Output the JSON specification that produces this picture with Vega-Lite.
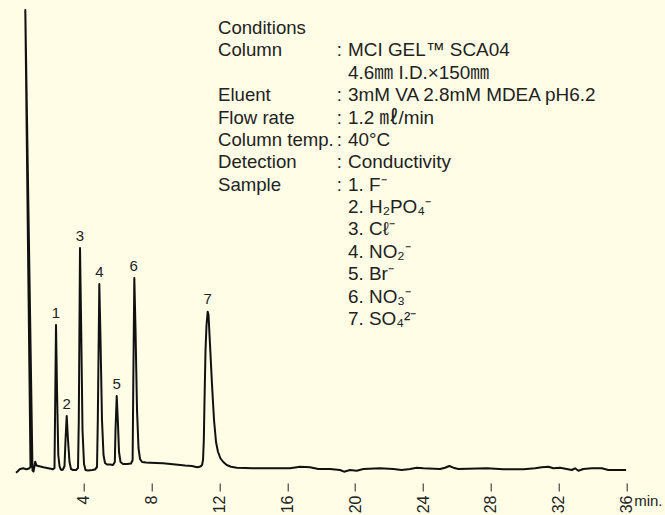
{
  "$schema": "https://vega.github.io/schema/vega-lite/v6.json",
  "width": 611,
  "height": 478,
  "autosize": {"type": "none"},
  "padding": {"left": 15.7, "top": 5, "right": 38.3, "bottom": 32},
  "background": "#fffde6",
  "config": {"view": {"stroke": null}, "font": "Liberation Sans, Noto Sans CJK JP"},
  "datasets": {
    "trace": [
      {"t": 0.018, "s": -2.7}, {"t": 0.136, "s": -1}, {"t": 0.224, "s": 0.7}, {"t": 0.43, "s": 1.7},
      {"t": 0.636, "s": 0.7}, {"t": 0.784, "s": 1.5}, {"t": 0.872, "s": 3}, {"t": 0.566, "s": 460},
      {"t": 0.99, "s": -0.5}, {"t": 1.049, "s": -1.5}, {"t": 1.108, "s": 4}, {"t": 1.149, "s": 8.3},
      {"t": 1.226, "s": 4.5}, {"t": 1.332, "s": 4}, {"t": 1.626, "s": 2.7}, {"t": 1.921, "s": 1.7},
      {"t": 2.198, "s": 0.7}, {"t": 2.286, "s": 2}, {"t": 2.316, "s": 50}, {"t": 2.375, "s": 145},
      {"t": 2.434, "s": 80}, {"t": 2.51, "s": 15}, {"t": 2.581, "s": 4}, {"t": 2.64, "s": 1},
      {"t": 2.699, "s": 0}, {"t": 2.787, "s": 0.5}, {"t": 2.876, "s": 4}, {"t": 2.935, "s": 30},
      {"t": 3.005, "s": 54}, {"t": 3.082, "s": 30}, {"t": 3.17, "s": 8}, {"t": 3.259, "s": 1},
      {"t": 3.377, "s": 0}, {"t": 3.553, "s": 0}, {"t": 3.671, "s": 2}, {"t": 3.718, "s": 50},
      {"t": 3.789, "s": 222}, {"t": 3.86, "s": 140}, {"t": 3.936, "s": 40}, {"t": 4.025, "s": 6},
      {"t": 4.113, "s": 0}, {"t": 4.26, "s": -0.5}, {"t": 4.496, "s": 0}, {"t": 4.673, "s": 0.5},
      {"t": 4.791, "s": 3}, {"t": 4.838, "s": 50}, {"t": 4.926, "s": 186}, {"t": 4.997, "s": 130},
      {"t": 5.085, "s": 50}, {"t": 5.174, "s": 15}, {"t": 5.262, "s": 7}, {"t": 5.38, "s": 5.5},
      {"t": 5.557, "s": 5.5}, {"t": 5.734, "s": 5}, {"t": 5.84, "s": 8}, {"t": 5.881, "s": 40},
      {"t": 5.952, "s": 74}, {"t": 6.017, "s": 50}, {"t": 6.087, "s": 18}, {"t": 6.176, "s": 8},
      {"t": 6.323, "s": 6}, {"t": 6.559, "s": 6}, {"t": 6.794, "s": 6.5}, {"t": 6.889, "s": 10},
      {"t": 6.93, "s": 90}, {"t": 6.989, "s": 192}, {"t": 7.06, "s": 140}, {"t": 7.148, "s": 60},
      {"t": 7.236, "s": 22}, {"t": 7.325, "s": 11}, {"t": 7.443, "s": 8}, {"t": 7.678, "s": 7.5},
      {"t": 7.914, "s": 7.3}, {"t": 8.68, "s": 6.7}, {"t": 9.269, "s": 5.7}, {"t": 9.976, "s": 4.5},
      {"t": 10.389, "s": 4}, {"t": 10.683, "s": 2.7}, {"t": 10.89, "s": 3.5}, {"t": 10.978, "s": 5},
      {"t": 11.037, "s": 10}, {"t": 11.084, "s": 30}, {"t": 11.125, "s": 70}, {"t": 11.184, "s": 120},
      {"t": 11.243, "s": 145}, {"t": 11.314, "s": 158.3}, {"t": 11.361, "s": 155}, {"t": 11.45, "s": 125},
      {"t": 11.567, "s": 85}, {"t": 11.685, "s": 50}, {"t": 11.803, "s": 28}, {"t": 11.921, "s": 18},
      {"t": 12.068, "s": 11.5}, {"t": 12.233, "s": 8}, {"t": 12.434, "s": 5}, {"t": 12.687, "s": 3.3},
      {"t": 13.023, "s": 2.3}, {"t": 13.983, "s": 1.7}, {"t": 16.164, "s": 1.7}, {"t": 16.753, "s": 3.3},
      {"t": 17.342, "s": 2.7}, {"t": 17.832, "s": 1}, {"t": 18.521, "s": 1}, {"t": 19.11, "s": 0},
      {"t": 19.346, "s": -1.7}, {"t": 19.699, "s": 0}, {"t": 20.094, "s": -0.7}, {"t": 20.483, "s": 1},
      {"t": 21.467, "s": 1.7}, {"t": 22.251, "s": 1}, {"t": 22.746, "s": 0}, {"t": 23.235, "s": 1},
      {"t": 23.63, "s": 2.3}, {"t": 24.019, "s": 1.7}, {"t": 25.003, "s": 1}, {"t": 25.298, "s": 2.3},
      {"t": 25.551, "s": 4}, {"t": 25.787, "s": 2.3}, {"t": 26.081, "s": 1}, {"t": 27.755, "s": 1.7},
      {"t": 28.733, "s": 0.7}, {"t": 29.912, "s": 0.7}, {"t": 30.601, "s": 1.7}, {"t": 30.996, "s": 2.7},
      {"t": 31.385, "s": 3.3}, {"t": 31.68, "s": 1.7}, {"t": 32.074, "s": 2.3}, {"t": 32.469, "s": 1},
      {"t": 32.764, "s": 0}, {"t": 32.959, "s": 1.7}, {"t": 33.153, "s": -0.7}, {"t": 33.447, "s": 1},
      {"t": 33.942, "s": 1.7}, {"t": 34.532, "s": 1.7}, {"t": 34.92, "s": 0}, {"t": 35.61, "s": 0},
      {"t": 35.964, "s": 0}
    ],
    "peaks": [
      {"peak": "1", "t": 2.375, "s": 145},
      {"peak": "2", "t": 3.005, "s": 54},
      {"peak": "3", "t": 3.789, "s": 222},
      {"peak": "4", "t": 4.926, "s": 186},
      {"peak": "5", "t": 5.952, "s": 74},
      {"peak": "6", "t": 6.95, "s": 192},
      {"peak": "7", "t": 11.314, "s": 158.3}
    ],
    "conditions": [
      {"row": 0, "label": "Conditions"},
      {"row": 1, "label": "Column", "sep": ":", "value": "MCI GEL™ SCA04"},
      {"row": 2, "value": "4.6㎜ I.D.×150㎜"},
      {"row": 3, "label": "Eluent", "sep": ":", "value": "3mM VA 2.8mM MDEA pH6.2"},
      {"row": 4, "label": "Flow rate", "sep": ":", "value": "1.2 ㎖/min"},
      {"row": 5, "label": "Column temp.", "sep": ":", "value": "40°C"},
      {"row": 6, "label": "Detection", "sep": ":", "value": "Conductivity"},
      {"row": 7, "label": "Sample", "sep": ":", "value": "1. F⁻"},
      {"row": 8, "value": "2. H₂PO₄⁻"},
      {"row": 9, "value": "3. Cℓ⁻"},
      {"row": 10, "value": "4. NO₂⁻"},
      {"row": 11, "value": "5. Br⁻"},
      {"row": 12, "value": "6. NO₃⁻"},
      {"row": 13, "value": "7. SO₄²⁻"}
    ]
  },
  "layer": [
    {
      "data": {"name": "trace"},
      "mark": {"type": "line", "color": "#111111", "strokeWidth": 2, "strokeJoin": "round"},
      "encoding": {
        "x": {
          "field": "t", "type": "quantitative",
          "scale": {"domain": [0, 36], "nice": false, "zero": false},
          "axis": {
            "values": [4, 8, 12, 16, 20, 24, 28, 32, 36],
            "labelAngle": -90, "domain": false, "grid": false,
            "tickSize": 8, "tickColor": "#222222", "tickWidth": 1,
            "labelFontSize": 16, "labelColor": "#222222", "labelPadding": 4,
            "labelFlush": false, "labelOverlap": false, "labelBound": false,
            "title": "min.", "titleAngle": 0, "titleX": 618, "titleY": 22,
            "titleAlign": "left", "titleBaseline": "alphabetic",
            "titleFontWeight": "normal", "titleFontSize": 15, "titleColor": "#222222"
          }
        },
        "y": {"field": "s", "type": "quantitative", "scale": {"domain": [-13, 465], "nice": false, "zero": false}, "axis": null},
        "order": {"value": null}
      }
    },
    {
      "data": {"name": "peaks"},
      "mark": {"type": "text", "dy": -7.5, "fontSize": 15, "color": "#222222", "baseline": "alphabetic", "align": "center"},
      "encoding": {
        "x": {"field": "t", "type": "quantitative", "scale": {"domain": [0, 36], "nice": false, "zero": false}},
        "y": {"field": "s", "type": "quantitative", "scale": {"domain": [-13, 465], "nice": false, "zero": false}, "axis": null},
        "text": {"field": "peak"}
      }
    },
    {
      "data": {"name": "conditions"},
      "transform": [{"filter": "isValid(datum.label)"}],
      "mark": {"type": "text", "align": "left", "baseline": "alphabetic", "fontSize": 18.6, "color": "#222222"},
      "encoding": {
        "x": {"datum": 11.92, "type": "quantitative", "scale": {"domain": [0, 36], "nice": false, "zero": false}},
        "y": {"field": "row", "type": "quantitative", "scale": {"domain": [-1.296, 20.06], "reverse": true, "nice": false, "zero": false}, "axis": null},
        "text": {"field": "label"}
      }
    },
    {
      "data": {"name": "conditions"},
      "transform": [{"filter": "isValid(datum.sep)"}],
      "mark": {"type": "text", "align": "left", "baseline": "alphabetic", "fontSize": 18.6, "color": "#222222"},
      "encoding": {
        "x": {"datum": 18.91, "type": "quantitative", "scale": {"domain": [0, 36], "nice": false, "zero": false}},
        "y": {"field": "row", "type": "quantitative", "scale": {"domain": [-1.296, 20.06], "reverse": true, "nice": false, "zero": false}, "axis": null},
        "text": {"field": "sep"}
      }
    },
    {
      "data": {"name": "conditions"},
      "transform": [{"filter": "isValid(datum.value)"}],
      "mark": {"type": "text", "align": "left", "baseline": "alphabetic", "fontSize": 18.9, "color": "#222222"},
      "encoding": {
        "x": {"datum": 19.58, "type": "quantitative", "scale": {"domain": [0, 36], "nice": false, "zero": false}},
        "y": {"field": "row", "type": "quantitative", "scale": {"domain": [-1.296, 20.06], "reverse": true, "nice": false, "zero": false}, "axis": null},
        "text": {"field": "value"}
      }
    }
  ],
  "resolve": {"scale": {"y": "independent"}}
}
